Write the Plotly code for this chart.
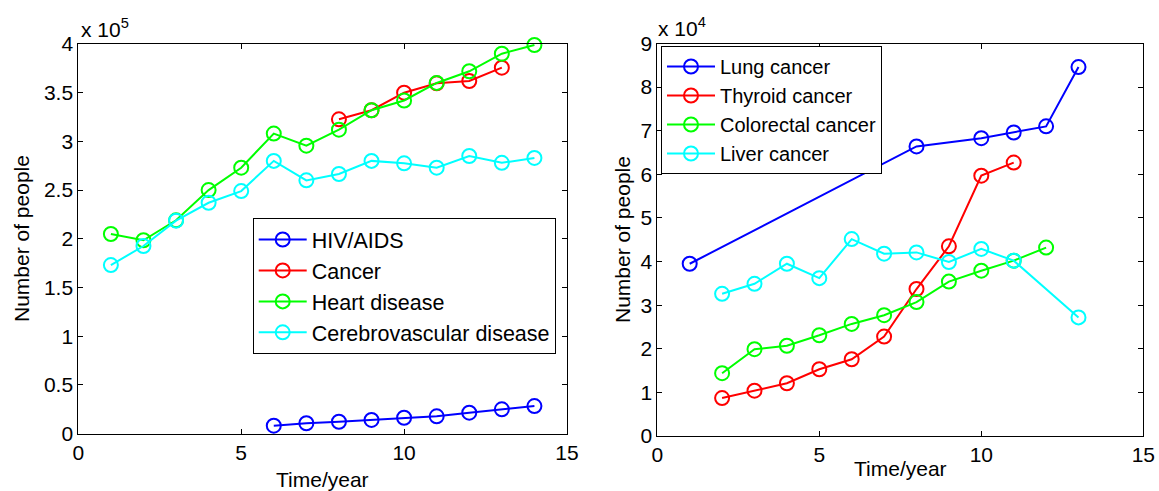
import plotly.graph_objects as go

W, H = 1159, 491

# ---------------- data (left panel, people) ----------------
hiv_x = [6, 7, 8, 9, 10, 11, 12, 13, 14]
hiv_y = [8100, 10600, 12200, 14000, 16300, 17700, 21500, 24900, 28300]
cancer_x = [8, 9, 10, 11, 12, 13]
cancer_y = [322700, 332000, 350000, 359600, 362000, 375700]
heart_x = [1, 2, 3, 4, 5, 6, 7, 8, 9, 10, 11, 12, 13, 14]
heart_y = [204900, 198500, 219000, 250000, 273000, 308000, 295600, 312000,
           332000, 342000, 360000, 372000, 390000, 399000]
cerebro_x = [1, 2, 3, 4, 5, 6, 7, 8, 9, 10, 11, 12, 13, 14]
cerebro_y = [173000, 192600, 218600, 237000, 249000, 280000, 260000, 266500,
             280000, 277500, 273000, 285000, 278000, 283000]

# ---------------- data (right panel, people) ----------------
lung_x = [1, 8, 10, 11, 12, 13]
lung_y = [39500, 66400, 68300, 69600, 71000, 84600]
thyroid_x = [2, 3, 4, 5, 6, 7, 8, 9, 10, 11]
thyroid_y = [8700, 10400, 12100, 15300, 17600, 22800, 33700, 43500, 59700, 62700]
colorectal_x = [2, 3, 4, 5, 6, 7, 8, 9, 10, 11, 12]
colorectal_y = [14400, 19900, 20700, 23100, 25700, 27700, 30700, 35400, 37900, 40200, 43200]
liver_x = [2, 3, 4, 5, 6, 7, 8, 9, 10, 11, 13]
liver_y = [32600, 34900, 39500, 36200, 45150, 41800, 42100, 39900, 42900, 40200, 27200]

x_ticks = [0, 5, 10, 15]
left_yticks = [0, 50000, 100000, 150000, 200000, 250000, 300000, 350000, 400000]
left_ytext = ["0", "0.5", "1", "1.5", "2", "2.5", "3", "3.5", "4"]
right_yticks = [0, 10000, 20000, 30000, 40000, 50000, 60000, 70000, 80000, 90000]
right_ytext = ["0", "1", "2", "3", "4", "5", "6", "7", "8", "9"]

FONT = "Liberation Sans, Arial, sans-serif"

fig = go.Figure()

def add(x, y, name, color, xa, ya, legend):
    fig.add_trace(go.Scatter(
        x=x, y=y, name=name, mode="lines+markers",
        line=dict(color=color, width=2),
        marker=dict(symbol="circle-open", size=14, color=color, line=dict(width=2, color=color)),
        xaxis=xa, yaxis=ya, legend=legend, cliponaxis=False,
    ))

add(hiv_x, hiv_y, "HIV/AIDS", "#0000ff", "x", "y", "legend")
add(cancer_x, cancer_y, "Cancer", "#ff0000", "x", "y", "legend")
add(heart_x, heart_y, "Heart disease", "#00ff00", "x", "y", "legend")
add(cerebro_x, cerebro_y, "Cerebrovascular disease", "#00ffff", "x", "y", "legend")

add(lung_x, lung_y, "Lung cancer", "#0000ff", "x2", "y2", "legend2")
add(thyroid_x, thyroid_y, "Thyroid cancer", "#ff0000", "x2", "y2", "legend2")
add(colorectal_x, colorectal_y, "Colorectal cancer", "#00ff00", "x2", "y2", "legend2")
add(liver_x, liver_y, "Liver cancer", "#00ffff", "x2", "y2", "legend2")

axis_common = dict(showline=True, linecolor="black", linewidth=1, mirror="ticks",
                   ticks="inside", ticklen=5, tickcolor="black", showgrid=False,
                   zeroline=False, automargin=False,
                   tickfont=dict(family=FONT, size=21, color="black"))

fig.update_layout(
    width=W, height=H,
    margin=dict(l=0, r=0, t=0, b=0, pad=0, autoexpand=False),
    paper_bgcolor="white", plot_bgcolor="white",
    font=dict(family=FONT, color="black"),
    xaxis=dict(domain=[78.3 / W, 567 / W], range=[0, 15], tickvals=x_ticks, anchor="y", **axis_common),
    yaxis=dict(domain=[(H - 433.6) / H, (H - 44) / H], range=[0, 400000],
               tickvals=left_yticks, ticktext=left_ytext, anchor="x", **axis_common),
    xaxis2=dict(domain=[657.3 / W, 1143.3 / W], range=[0, 15], tickvals=x_ticks, anchor="y2", **axis_common),
    yaxis2=dict(domain=[(H - 436) / H, (H - 43.5) / H], range=[0, 90000],
                tickvals=right_yticks, ticktext=right_ytext, anchor="x2", **axis_common),
    legend=dict(x=252.7 / W, y=(H - 218) / H, xanchor="left", yanchor="top",
                bgcolor="white", bordercolor="black", borderwidth=1,
                font=dict(family=FONT, size=21.5, color="black"), itemwidth=48),
    legend2=dict(x=661 / W, y=(H - 46) / H, xanchor="left", yanchor="top",
                 bgcolor="white", bordercolor="black", borderwidth=1,
                 font=dict(family=FONT, size=20, color="black"), itemwidth=48),
    showlegend=True,
)

ann_font = dict(family=FONT, size=21, color="black")
annotations = [
    dict(text="Number of people", x=22 / W, y=(H - 239) / H, textangle=-90),
    dict(text="Number of people", x=622 / W, y=(H - 240) / H, textangle=-90),
    dict(text="Time/year", x=322 / W, y=(H - 479) / H),
    dict(text="Time/year", x=900 / W, y=(H - 468) / H),
    dict(text="x 10<sup>5</sup>", x=79 / W, y=(H - 28) / H, xanchor="left"),
    dict(text="x 10<sup>4</sup>", x=656 / W, y=(H - 27) / H, xanchor="left"),
]
for a in annotations:
    a.setdefault("xanchor", "center")
    fig.add_annotation(xref="paper", yref="paper", showarrow=False, yanchor="middle",
                       font=ann_font, **a)

fig.write_html(
    "out.html",
    config={"displayModeBar": False},
    post_script="document.body.style.margin='0px';document.body.style.overflow='hidden';",
)
